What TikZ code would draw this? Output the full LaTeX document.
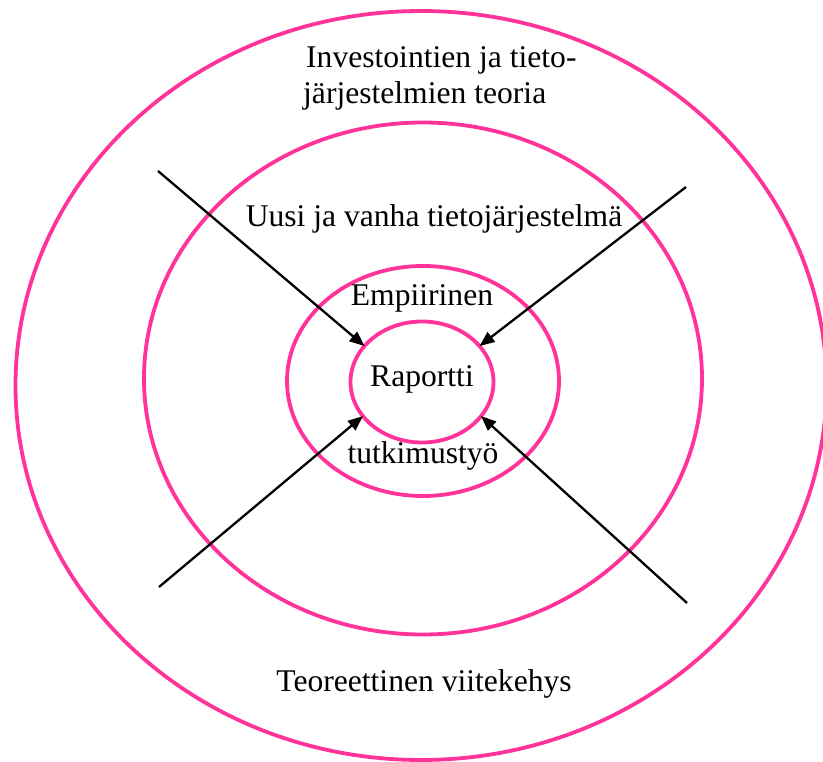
\documentclass[tikz,border=0pt]{standalone}
\usepackage{fontspec}
\setmainfont{Liberation Serif}
\usetikzlibrary{shapes.geometric,arrows.meta}
\definecolor{ringpink}{RGB}{255,51,153}
\tikzset{
  ring/.style={draw=ringpink, line width=3.8pt, ellipse, inner sep=0pt, outer sep=0pt},
  label/.style={font=\fontsize{31.6}{36}\selectfont, inner sep=0pt},
  pointer/.style={draw=black, line width=2.3pt, -{Triangle[length=15pt,width=12pt]}}
}
\begin{document}
\begin{tikzpicture}[x=1pt,y=-1pt]
  \useasboundingbox (0,0) rectangle (823,762);
  % nested rings
  \node[ring, minimum width=811pt, minimum height=749pt] (outer) at (421,385.5) {};
  \node[ring, minimum width=558pt, minimum height=512pt] (system) at (423,378.5) {};
  \node[ring, minimum width=272pt, minimum height=230pt] (empirical) at (423,381) {};
  \node[ring, minimum width=143pt, minimum height=121pt] (report) at (422,382) {};
  % ring labels
  \node[label, anchor=base west] (theory1) at (306,68) {Investointien ja tieto-};
  \node[label, anchor=base west] (theory2) at (303,104) {järjestelmien teoria};
  \node[label, anchor=base] (systemlbl) at (434,227) {Uusi ja vanha tietojärjestelmä};
  \node[label, anchor=base] (emp1) at (422,306) {Empiirinen};
  \node[label, anchor=base] (reportlbl) at (422,387) {Raportti};
  \node[label, anchor=base] (emp2) at (423,463) {tutkimustyö};
  \node[label, anchor=base] (framework) at (424,691) {Teoreettinen viitekehys};
  % arrows pointing into the report
  \coordinate (nw) at (158,171);
  \coordinate (ne) at (686,187);
  \coordinate (sw) at (159,587);
  \coordinate (se) at (687,603);
  \draw[pointer] (nw) -- (report.148);
  \draw[pointer] (ne) -- (report.32);
  \draw[pointer] (sw) -- (report.210);
  \draw[pointer] (se) -- (report.330);
\end{tikzpicture}
\end{document}
